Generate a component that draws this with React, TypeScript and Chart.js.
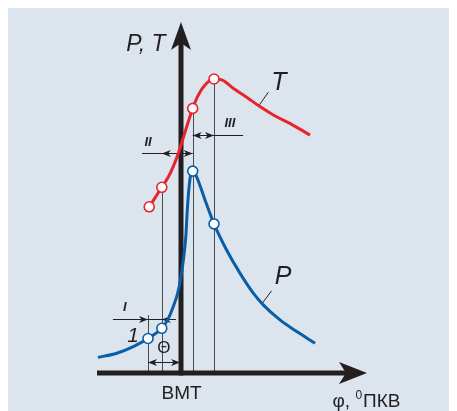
import { useEffect, useRef } from "react";
import { Chart, registerables } from "chart.js";

Chart.register(...registerables);

// Crank angle (deg from BMT) and relative values
const tPhi = [-10.6, -6.4, -4.2, -2.6, -0.9, 0.2, 1.9, 3.9, 5.8, 8, 11, 13.6, 17.4, 21.9, 26.3, 30.8, 36.3, 43];
const tVal = [55.4, 61.9, 65.4, 68.8, 73.2, 76.6, 82.1, 88.2, 92.7, 96, 98, 97.7, 94.9, 91.9, 88.8, 86, 83.2, 79.3];

const pPhi = [-27.7, -21.4, -15.9, -11, -6.4, -4.2, -2.6, -1.1, 0, 0.8, 1.6, 2.1, 2.7, 3.3, 3.9, 5.2, 8.0, 11, 15.2, 19.7, 24.1, 27.4, 33.0, 38.6, 44.7];
const pVal = [5.2, 6.6, 8.8, 11.5, 14.9, 18.2, 22.1, 26.6, 32.1, 37.7, 45.4, 54.3, 62.1, 66.4, 67.3, 65.4, 57.7, 49.7, 41.0, 33.2, 26.6, 22.7, 17.7, 13.8, 9.9];

const tMarkPhi = [-10.6, -6.4, 3.9, 11];
const tMarkVal = [55.4, 61.9, 88.2, 98];
const pMarkPhi = [-11, -6.4, 3.9, 11];
const pMarkVal = [11.5, 14.9, 67.3, 49.7];

// vertical guide lines: angle, top value
const guidePhi = [-11, -6.4, 3.9, 11];
const guideTop = [19.3, 61.9, 88.2, 98];

// dimension lines: label, level, line start, line end, arrow a, arrow b, inward?
const dimLabels = ["I", "II", "III", "Θ"];
const dimLevel = [18, 73.4, 79.3, 3.8];
const dimFrom = [-22.7, -13, 3.9, -11];
const dimTo = [-1.7, 3.9, 20.7, -0.3];
const dimA = [-11, -6.4, 3.9, -11];
const dimB = [-6.4, 3.9, 11, -0.3];
const dimInward = [true, false, false, false];

const axisPhi = [-28, 62];
const axisVal = [0, 117];

const RED = "#e8232b";
const BLUE = "#0a5ea8";
const INK = "#231f20";
const BG = "#dce5ee";
const FONT = "'Liberation Sans Narrow', 'Liberation Sans', Arial, sans-serif";

function head(ctx: CanvasRenderingContext2D, x: number, y: number, dx: number, dy: number, len: number, hw: number, notch: number) {
  const nx = -dy, ny = dx;
  ctx.beginPath();
  ctx.moveTo(x, y);
  ctx.lineTo(x - dx * len + nx * hw, y - dy * len + ny * hw);
  ctx.lineTo(x - dx * (len - notch), y - dy * (len - notch));
  ctx.lineTo(x - dx * len - nx * hw, y - dy * len - ny * hw);
  ctx.closePath();
  ctx.fill();
}

const drawPlugin = {
  id: "schematic",
  beforeDraw(chart: any) {
    const ctx = chart.ctx;
    ctx.save();
    ctx.fillStyle = BG;
    ctx.fillRect(0, 0, chart.width, chart.height);
    ctx.restore();
  },
  beforeDatasetsDraw(chart: any) {
    const ctx: CanvasRenderingContext2D = chart.ctx;
    const X = (v: number) => chart.scales.x.getPixelForValue(v);
    const Y = (v: number) => chart.scales.y.getPixelForValue(v);
    ctx.save();
    // guide lines
    ctx.strokeStyle = "#4a4a4a";
    ctx.lineWidth = 1;
    guidePhi.forEach((g, i) => {
      const x = Math.round(X(g)) + 0.5;
      ctx.beginPath();
      ctx.moveTo(x, Y(guideTop[i]));
      ctx.lineTo(x, Y(0));
      ctx.stroke();
    });
    // dimension lines
    ctx.fillStyle = INK;
    ctx.strokeStyle = INK;
    dimLabels.forEach((_, i) => {
      const y = Math.round(Y(dimLevel[i])) + 0.5;
      ctx.beginPath();
      ctx.moveTo(X(dimFrom[i]), y);
      ctx.lineTo(X(dimTo[i]), y);
      ctx.stroke();
      const xa = X(dimA[i]);
      const xb = X(dimB[i]);
      if (dimInward[i]) {
        head(ctx, xa, y, 1, 0, 9, 3.5, 2.5);
        head(ctx, xb, y, -1, 0, 9, 3.5, 2.5);
      } else {
        head(ctx, xa, y, -1, 0, 9, 3.5, 2.5);
        head(ctx, xb, y, 1, 0, 9, 3.5, 2.5);
      }
    });
    // leader lines
    ctx.lineWidth = 1;
    ctx.beginPath();
    ctx.moveTo(X(25.8), Y(88.9));
    ctx.lineTo(X(29.1), Y(93.6));
    ctx.moveTo(X(26.9), Y(23));
    ctx.lineTo(X(30.2), Y(27.4));
    ctx.stroke();
    // axes
    ctx.lineWidth = 5;
    ctx.lineCap = "butt";
    const x0 = X(0), y0 = Y(0);
    ctx.beginPath();
    ctx.moveTo(X(axisPhi[0]), y0);
    ctx.lineTo(X(axisPhi[1]) - 20, y0);
    ctx.stroke();
    ctx.beginPath();
    ctx.moveTo(x0, y0 + 2.5);
    ctx.lineTo(x0, Y(axisVal[1]) + 20);
    ctx.stroke();
    head(ctx, X(axisPhi[1]), y0, 1, 0, 28, 11, 7);
    head(ctx, x0, Y(axisVal[1]), 0, -1, 28, 10, 7);
    ctx.restore();
  },
  afterDatasetsDraw(chart: any) {
    const ctx: CanvasRenderingContext2D = chart.ctx;
    const X = (v: number) => chart.scales.x.getPixelForValue(v);
    const Y = (v: number) => chart.scales.y.getPixelForValue(v);
    ctx.save();
    ctx.fillStyle = INK;
    ctx.textAlign = "center";
    ctx.textBaseline = "middle";
    const txt = (s: string, phi: number, v: number, font: string) => {
      ctx.font = font;
      ctx.fillText(s, X(phi), Y(v));
    };
    txt("P, T", -11.7, 109.3, `italic 23px ${FONT}`);
    txt("T", 32.6, 96.7, `italic 25px ${FONT}`);
    txt("P", 34, 32, `italic 25px ${FONT}`);
    txt("I", -18.7, 21.7, `italic bold 13px ${FONT}`);
    txt("II", -11, 77, `italic bold 13px ${FONT}`);
    txt("III", 16.3, 83.3, `italic bold 13px ${FONT}`);
    txt("1", -16, 12.3, `italic 21px ${FONT}`);
    txt("Θ", -5.7, 8.3, `17px ${FONT}`);
    txt("ВМТ", 0.2, -7, `19px ${FONT}`);
    // φ, ⁰ПКВ
    ctx.textAlign = "left";
    ctx.textBaseline = "alphabetic";
    const bx = X(50.5), by = Y(-11.3);
    ctx.font = `19px ${FONT}`;
    const a = "φ, ";
    ctx.fillText(a, bx, by);
    let w = ctx.measureText(a).width;
    ctx.font = `12px ${FONT}`;
    ctx.fillText("0", bx + w, by - 8);
    w += ctx.measureText("0").width + 1;
    ctx.font = `19px ${FONT}`;
    ctx.fillText("ПКВ", bx + w, by);
    ctx.restore();
  },
};

export default function App() {
  const ref = useRef<HTMLCanvasElement>(null);
  useEffect(() => {
    if (!ref.current) return;
    const chart = new Chart(ref.current, {
      type: "line",
      data: {
        datasets: [
          {
            label: "T markers",
            data: tMarkPhi.map((x, i) => ({ x, y: tMarkVal[i] })),
            showLine: false,
            pointRadius: 5,
            pointBackgroundColor: "#ffffff",
            pointBorderColor: RED,
            pointBorderWidth: 1.6,
            order: 0,
          },
          {
            label: "P markers",
            data: pMarkPhi.map((x, i) => ({ x, y: pMarkVal[i] })),
            showLine: false,
            pointRadius: 5,
            pointBackgroundColor: "#ffffff",
            pointBorderColor: BLUE,
            pointBorderWidth: 1.6,
            order: 0,
          },
          {
            label: "T",
            data: tPhi.map((x, i) => ({ x, y: tVal[i] })),
            borderColor: RED,
            borderWidth: 3,
            pointRadius: 0,
            cubicInterpolationMode: "monotone",
            fill: false,
            order: 1,
          },
          {
            label: "P",
            data: pPhi.map((x, i) => ({ x, y: pVal[i] })),
            borderColor: BLUE,
            borderWidth: 3,
            pointRadius: 0,
            cubicInterpolationMode: "monotone",
            fill: false,
            order: 1,
          },
        ],
      },
      options: {
        animation: false,
        responsive: false,
        devicePixelRatio: 1,
        layout: { padding: 0, autoPadding: false },
        events: [],
        plugins: { legend: { display: false }, tooltip: { enabled: false }, title: { display: false } },
        scales: {
          x: { type: "linear", min: -58, max: 92, display: false },
          y: { type: "linear", min: -38 / 3, max: 365 / 3, display: false },
        },
      },
      plugins: [drawPlugin],
    });
    return () => chart.destroy();
  }, []);
  return (
    <div style={{ width: 450, height: 403, marginLeft: -1 }}>
      <canvas ref={ref} width={450} height={403} style={{ display: "block" }} />
    </div>
  );
}
